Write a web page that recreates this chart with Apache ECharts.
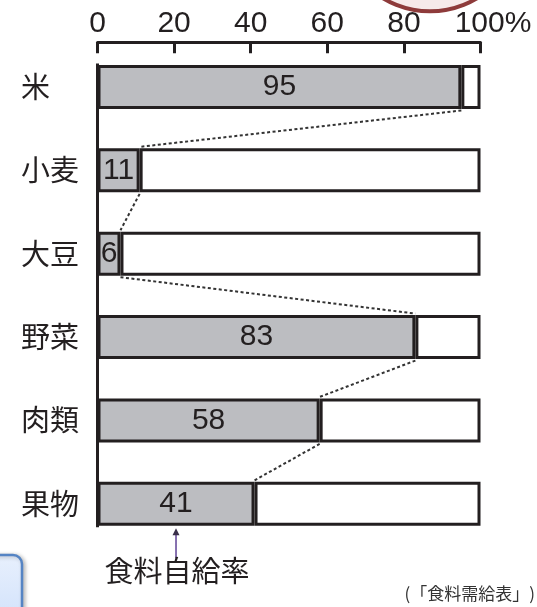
<!DOCTYPE html>
<html><head><meta charset="utf-8">
<script src="https://cdn.jsdelivr.net/npm/echarts@6/dist/echarts.min.js"></script>
<style>html,body{margin:0;padding:0;background:#fff}#c{width:537px;height:607px}</style>
</head><body><div id="c"></div>
<script>
const categories = ['米', '小麦', '大豆', '野菜', '肉類', '果物'];
const rates = [95, 11, 6, 83, 58, 41];
const tickValues = [0, 20, 40, 60, 80, 100];
const annotationText = '食料自給率';
const sourceText = '(「食料需給表」)';

const INK = '#231f20';
const NUM_FONT = "'Liberation Sans','Arial',sans-serif";
const CJK_FONT = "'Noto Sans CJK JP',sans-serif";
const NUM_SIZE = 30;
const BAR_W = 44;
const BORDER = 3;

const rest = rates.map(v => 100 - v);
const last = rates.length - 1;
const connectors = rates.slice(0, -1).map((v, i) => [v, i, rates[i + 1], i + 1]);
const half = BAR_W / 2 + BORDER / 2;

const chart = echarts.init(document.getElementById('c'), null, {renderer: 'canvas'});
chart.setOption({
  animation: false,
  grid: {left: 97.5, right: 56.5, top: 45.3, bottom: 61.5, containLabel: false},
  xAxis: {
    type: 'value', position: 'top', min: tickValues[0], max: tickValues[tickValues.length - 1],
    interval: tickValues[1] - tickValues[0], offset: 3,
    axisLine: {show: true, lineStyle: {color: INK, width: 3}},
    axisTick: {show: true, inside: true, length: 11, lineStyle: {color: INK, width: 3}},
    splitLine: {show: false},
    axisLabel: {
      margin: 4, color: INK, fontSize: NUM_SIZE, fontFamily: NUM_FONT,
      showMaxLabel: true, showMinLabel: true,
      formatter: v => v === 100 ? '{sp| }100%' : String(v),
      rich: {sp: {width: 25, fontSize: NUM_SIZE, fontFamily: NUM_FONT}}
    }
  },
  yAxis: {
    type: 'category', inverse: true, data: categories,
    axisLine: {show: false}, axisTick: {show: false}, splitLine: {show: false},
    axisLabel: {align: 'left', margin: 76.5, color: INK, fontSize: 29, fontFamily: CJK_FONT}
  },
  graphic: [
    {type: 'circle', shape: {cx: 430, cy: -80, r: 91.3},
      style: {fill: '#f6eaea', stroke: '#8e3b3b', lineWidth: 4}},
    {type: 'rect', shape: {x: -20, y: 555, width: 42, height: 80, r: 9},
      style: {
        fill: new echarts.graphic.LinearGradient(0, 0, 0, 1, [
          {offset: 0, color: '#e8f0fd'}, {offset: 1, color: '#cddffb'}]),
        stroke: '#5584c4', lineWidth: 2.5,
        shadowBlur: 4, shadowColor: 'rgba(0,0,0,0.25)', shadowOffsetX: 2, shadowOffsetY: 1
      }},
    {type: 'text', right: 2, bottom: 5,
      style: {text: sourceText, font: "17px 'Noto Sans CJK JP'", fill: '#333'}}
  ],
  series: [
    {
      type: 'bar', stack: 't', data: rates, barWidth: BAR_W,
      itemStyle: {color: '#bcbdc1', borderColor: INK, borderWidth: BORDER},
      label: {show: true, position: 'inside', color: INK, fontSize: NUM_SIZE, fontFamily: NUM_FONT}
    },
    {
      type: 'bar', stack: 't', data: rest, barWidth: BAR_W,
      itemStyle: {color: '#ffffff', borderColor: INK, borderWidth: BORDER}
    },
    {
      type: 'custom', clip: false, silent: true, data: connectors,
      encode: {x: 0, y: 1},
      renderItem: (params, api) => {
        const p1 = api.coord([api.value(0), api.value(1)]);
        const p2 = api.coord([api.value(2), api.value(3)]);
        return {type: 'line', shape: {x1: p1[0], y1: p1[1] + half, x2: p2[0], y2: p2[1] - half},
          style: {stroke: '#333', lineWidth: 2, lineDash: [3, 2.5]}};
      }
    },
    {
      type: 'custom', clip: false, silent: true, data: [[0, 0, 0, last]],
      encode: {x: 0, y: 1},
      renderItem: (params, api) => {
        const p1 = api.coord([api.value(0), api.value(1)]);
        const p2 = api.coord([api.value(2), api.value(3)]);
        return {type: 'line', shape: {x1: p1[0], y1: p1[1] - half, x2: p2[0], y2: p2[1] + half},
          style: {stroke: INK, lineWidth: 3}};
      }
    },
    {
      type: 'custom', clip: false, silent: true, data: [[rates[last] / 2, last]],
      encode: {x: 0, y: 1},
      renderItem: (params, api) => {
        const p = api.coord([api.value(0), api.value(1)]);
        const top = p[1] + half + 1;
        return {type: 'group', children: [
          {type: 'line', shape: {x1: p[0], y1: top + 4, x2: p[0], y2: top + 30},
            style: {stroke: '#7a62a8', lineWidth: 1.8}},
          {type: 'polygon', shape: {points: [[p[0], top], [p[0] - 3.5, top + 7], [p[0] + 3.5, top + 7]]},
            style: {fill: '#3a2f4a'}},
          {type: 'text', style: {text: annotationText, x: p[0] + 1, y: top + 43,
            align: 'center', verticalAlign: 'middle', font: "29px 'Noto Sans CJK JP'", fill: INK}}
        ]};
      }
    }
  ]
});
</script></body></html>
